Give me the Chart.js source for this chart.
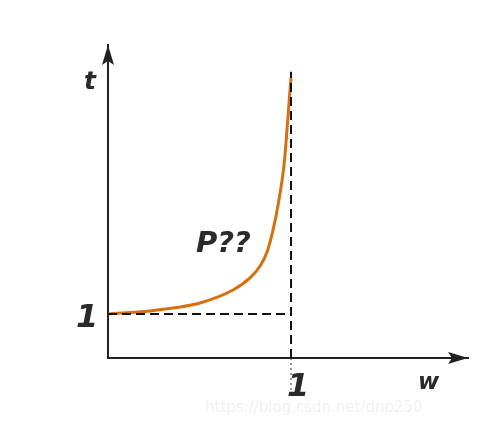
<!DOCTYPE html>
<html>
<head>
<meta charset="utf-8">
<script src="https://cdn.jsdelivr.net/npm/chart.js@4/dist/chart.umd.min.js"></script>
<style>
  html, body { margin: 0; padding: 0; background: #fff; }
  #wrap { width: 499px; height: 426px; position: relative; }
</style>
</head>
<body>
<div id="wrap"><canvas id="curveChart"></canvas></div>
<script>
// curve (w, t)
const curveW = [0, 0.23, 0.366, 0.503, 0.683, 0.776, 0.831, 0.869, 0.902, 0.934, 0.962, 0.978, 0.992, 1.0];
const curveT = [1, 1.07, 1.14, 1.25, 1.545, 1.82, 2.09, 2.41, 2.91, 3.59, 4.39, 5.18, 5.95, 6.36];
// guide lines
const hGuideW = [0, 1];
const hGuideT = [1, 1];
const vGuideW = [1, 1];
const vGuideT = [0, 6.5];
const vTailT = [0, -0.73];
// axis ranges
const wMax = 1.967;
const tMax = 7.11;

const font = "'DejaVu Sans', Verdana, sans-serif";

function pts(xs, ys) {
    return xs.map((x, i) => ({ x: x, y: ys[i] }));
}

// axis arrows + text labels
const decorPlugin = {
    id: "decor",
    afterDraw(chart) {
        const ctx = chart.ctx;
        const xs = chart.scales.x;
        const ys = chart.scales.y;
        const x0 = xs.getPixelForValue(0);
        const y0 = ys.getPixelForValue(0);
        const xEnd = xs.getPixelForValue(wMax);
        const yEnd = ys.getPixelForValue(tMax);
        ctx.save();
        ctx.fillStyle = "#222";
        // up arrow
        ctx.beginPath();
        ctx.moveTo(x0, yEnd);
        ctx.lineTo(x0 - 6, yEnd + 20);
        ctx.lineTo(x0, yEnd + 16);
        ctx.lineTo(x0 + 6, yEnd + 20);
        ctx.closePath();
        ctx.fill();
        // right arrow
        ctx.beginPath();
        ctx.moveTo(xEnd, y0);
        ctx.lineTo(xEnd - 20, y0 - 6);
        ctx.lineTo(xEnd - 16, y0);
        ctx.lineTo(xEnd - 20, y0 + 6);
        ctx.closePath();
        ctx.fill();

        ctx.fillStyle = "#2a2a2a";
        ctx.textBaseline = "alphabetic";
        ctx.textAlign = "left";
        ctx.font = "italic bold 25px " + font;
        ctx.fillText("t", 84, 89);
        ctx.font = "italic bold 32px " + font;
        ctx.fillText("1", 76, 327);
        ctx.fillText("1", 287, 396);
        ctx.font = "italic bold 23px " + font;
        ctx.fillText("w", 418, 389);
        ctx.font = "italic bold 29px " + font;
        ctx.fillText("P??", 196, 252);

        ctx.fillStyle = "#f0f0f0";
        ctx.font = "15px " + font;
        ctx.fillText("https://blog.csdn.net/dnp250", 205, 412);
        ctx.restore();
    }
};

new Chart(document.getElementById("curveChart"), {
    type: "scatter",
    data: {
        datasets: [
            {
                data: pts(hGuideW, hGuideT),
                showLine: true,
                borderColor: "#111",
                borderWidth: 2,
                borderDash: [9, 5],
                pointRadius: 0
            },
            {
                data: pts(vGuideW, vGuideT),
                showLine: true,
                borderColor: "#111",
                borderWidth: 2,
                borderDash: [9, 5],
                pointRadius: 0
            },
            {
                data: pts(vGuideW, vTailT),
                showLine: true,
                borderColor: "#333",
                borderWidth: 1,
                borderDash: [2, 3],
                pointRadius: 0,
                clip: false
            },
            {
                data: pts(curveW, curveT),
                showLine: true,
                borderColor: "#d6700c",
                borderWidth: 3,
                cubicInterpolationMode: "monotone",
                pointRadius: 0
            }
        ]
    },
    options: {
        responsive: true,
        maintainAspectRatio: false,
        animation: false,
        events: [],
        layout: { padding: { left: 108, right: 31, top: 45, bottom: 68 } },
        scales: {
            x: {
                type: "linear",
                min: 0,
                max: wMax,
                ticks: { display: false },
                grid: { display: false, drawTicks: false },
                border: { display: true, color: "#222", width: 2 }
            },
            y: {
                type: "linear",
                min: 0,
                max: tMax,
                ticks: { display: false },
                grid: { display: false, drawTicks: false },
                border: { display: true, color: "#222", width: 2 }
            }
        },
        plugins: {
            legend: { display: false },
            tooltip: { enabled: false }
        }
    },
    plugins: [decorPlugin]
});
</script>
</body>
</html>
